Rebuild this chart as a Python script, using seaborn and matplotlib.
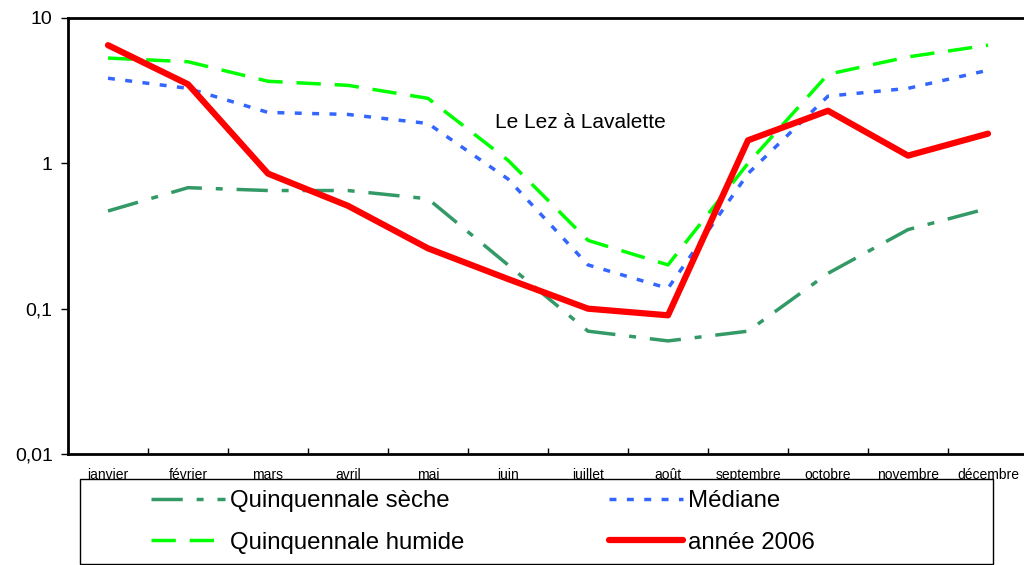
import numpy as np
import pandas as pd
import seaborn as sns
import matplotlib.pyplot as plt
from matplotlib.patches import Rectangle
from matplotlib.ticker import FixedLocator, NullLocator

# Data
mois = ['janvier', 'février', 'mars', 'avril', 'mai', 'juin', 'juillet',
        'août', 'septembre', 'octobre', 'novembre', 'décembre']
seche = [0.47, 0.68, 0.65, 0.65, 0.57, 0.20, 0.07, 0.06, 0.07, 0.175, 0.35, 0.49]
humide = [5.3, 5.0, 3.67, 3.44, 2.8, 1.05, 0.295, 0.20, 1.0, 4.1, 5.4, 6.5]
mediane = [3.85, 3.28, 2.24, 2.17, 1.88, 0.78, 0.20, 0.138, 0.85, 2.9, 3.28, 4.37]
annee2006 = [6.5, 3.5, 0.85, 0.51, 0.26, 0.16, 0.10, 0.09, 1.44, 2.3, 1.13, 1.6]

df = pd.DataFrame({'pos': np.arange(len(mois)), 'mois': mois,
                   'seche': seche, 'humide': humide,
                   'mediane': mediane, 'annee': annee2006})

sns.set_style('white')
plt.rcParams['font.family'] = ['Liberation Sans', 'DejaVu Sans']
plt.rcParams['text.color'] = 'black'
plt.rcParams['xtick.color'] = 'black'
plt.rcParams['ytick.color'] = 'black'
plt.rcParams['axes.labelcolor'] = 'black'

fig = plt.figure(figsize=(10.24, 5.65), dpi=100)
ax = fig.add_axes([68 / 1024, 1 - 454 / 565, 960 / 1024, 436 / 565])

sns.lineplot(data=df, x='pos', y='seche', ax=ax, color='#339966', lw=2.5,
             label='Quinquennale sèche')
ax.lines[-1].set_dashes([9, 4, 2, 4])
sns.lineplot(data=df, x='pos', y='humide', ax=ax, color='#00FF00', lw=2.5,
             label='Quinquennale humide')
ax.lines[-1].set_dashes([7, 4])
sns.lineplot(data=df, x='pos', y='mediane', ax=ax, color='#3366FF', lw=2.5,
             label='Médiane')
ax.lines[-1].set_dashes([2, 3])
sns.lineplot(data=df, x='pos', y='annee', ax=ax, color='#FF0000', lw=4.5,
             label='année 2006')

ax.set_yscale('log')
ax.set_ylim(0.01, 10)
ax.yaxis.set_major_locator(FixedLocator([0.01, 0.1, 1, 10]))
ax.yaxis.set_minor_locator(NullLocator())
ax.set_yticklabels(['0,01', '0,1', '1', '10'], fontsize=14)
ax.tick_params(axis='y', which='major', direction='out', length=5, width=1,
               left=True, pad=6)

ax.set_xlim(-0.5, len(mois) - 0.5)
ax.xaxis.set_major_locator(FixedLocator(np.arange(len(mois) + 1) - 0.5))
ax.xaxis.set_minor_locator(FixedLocator(np.arange(len(mois))))
ax.set_xticklabels([''] * (len(mois) + 1))
ax.set_xticklabels(mois, minor=True, fontsize=10)
ax.tick_params(axis='x', which='major', direction='in', length=4, width=1,
               bottom=True)
ax.tick_params(axis='x', which='minor', length=0, pad=10)

ax.set_xlabel('')
ax.set_ylabel('')
for side in ['left', 'bottom', 'top']:
    ax.spines[side].set_color('black')
    ax.spines[side].set_linewidth(2)
ax.spines['right'].set_visible(False)

fig.text(580 / 1024, 1 - 123 / 565, 'Le Lez à Lavalette', fontsize=15,
         ha='center', va='center')

# legend box
fig.patches.append(Rectangle((80 / 1024, 1 - 564 / 565), 913 / 1024, 85 / 565,
                             transform=fig.transFigure, facecolor='white',
                             edgecolor='black', lw=1, zorder=1))
handles, labels = ax.get_legend_handles_labels()
ax.get_legend().remove()
leg = fig.legend(handles, labels,
                 ncol=2, loc='upper left',
                 bbox_to_anchor=(151 / 1024, 1 - 490 / 565),
                 frameon=False, fontsize=17.3, handlelength=3.1,
                 handletextpad=0.2, columnspacing=6.0, labelspacing=0.82,
                 borderpad=0, borderaxespad=0)
leg.set_zorder(2)

fig.savefig('out.png', dpi=100)
